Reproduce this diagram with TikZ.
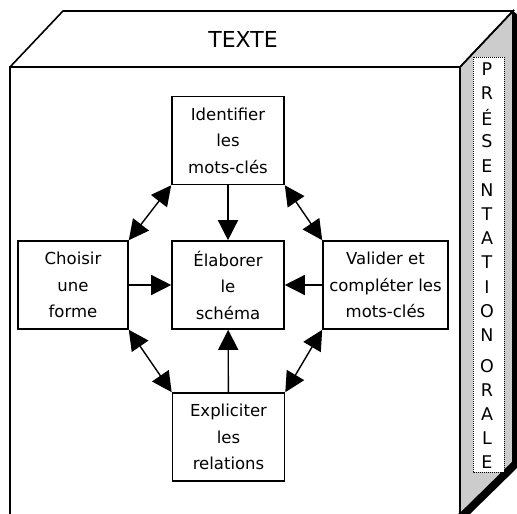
\documentclass[tikz,border=0pt]{standalone}
\usepackage{fontspec}
\setmainfont{DejaVu Sans}
\usetikzlibrary{arrows.meta}

\begin{document}
\begin{tikzpicture}[x=1pt, y=-1pt,
  every node/.style={font=\fontsize{16.5}{26.5}\selectfont},
  etape/.style={draw, line width=1.6pt, inner sep=0pt, align=center,
    minimum width=112pt, minimum height=88pt},
  fleche/.style={line width=1.4pt, -{Triangle[length=20pt,width=20pt]}},
  double fleche/.style={line width=1.4pt,
    {Triangle[length=20pt,width=20pt]}-{Triangle[length=20pt,width=20pt]}}]
  \useasboundingbox (0,0) rectangle (517,514);

  % Shadow
  \fill[black] (513,11) -- (518,15) -- (518,467) -- (470,514) -- (458,514) -- (513,460) -- cycle;

  % Box: side, top and front
  \filldraw[fill=black!20, line width=1.6pt] (460,67) -- (513,11) -- (513,462) -- (460,514);
  \draw[line width=1.6pt] (10,67) -- (63,11) -- (513,11) -- (460,67);
  \draw[line width=1.6pt] (10,514) -- (10,67) -- (460,67) -- (460,514);
  \node[font=\fontsize{22}{26}\selectfont] (texte) at (243,39) {TEXTE};

  % Side label
  \draw[densely dotted, line width=1pt, fill=white] (473,57) rectangle (504,472);
  \foreach \l [count=\i from 0] in {P,R,É,S,E,N,T,A,T,I,O,N}
    \node[font=\fontsize{17.5}{20}\selectfont] (p\i) at (487,69+24.2*\i) {\l};
  \foreach \l [count=\i from 0] in {O,R,A,L,E}
    \node[font=\fontsize{17.5}{20}\selectfont] (o\i) at (487,366.5+24*\i) {\l};

  % Steps
  \node[etape] (ident) at (228,140.5) {Identifier\\les\\mots-clés};
  \node[etape, minimum width=110pt] (forme) at (73,285) {Choisir\\une\\forme};
  \node[etape] (schema) at (228,285) {Élaborer\\le\\schéma};
  \node[etape, minimum width=125pt] (valider) at (385.5,285) {Valider et\\compléter les\\mots-clés};
  \node[etape] (relations) at (228.5,437) {Expliciter\\les\\relations};

  % Arrows to the centre
  \draw[fleche] (ident) -- (schema);
  \draw[fleche] (forme) -- (schema);
  \draw[fleche] (valider) -- (schema);
  \draw[fleche] (relations) -- (schema);

  % Arrows round the centre
  \draw[double fleche] (ident.south west) -- (forme.north east);
  \draw[double fleche] (ident.south east) -- (valider.north west);
  \draw[double fleche] (forme.south east) -- (relations.north west);
  \draw[double fleche] (valider.south west) -- (relations.north east);
\end{tikzpicture}
\end{document}
